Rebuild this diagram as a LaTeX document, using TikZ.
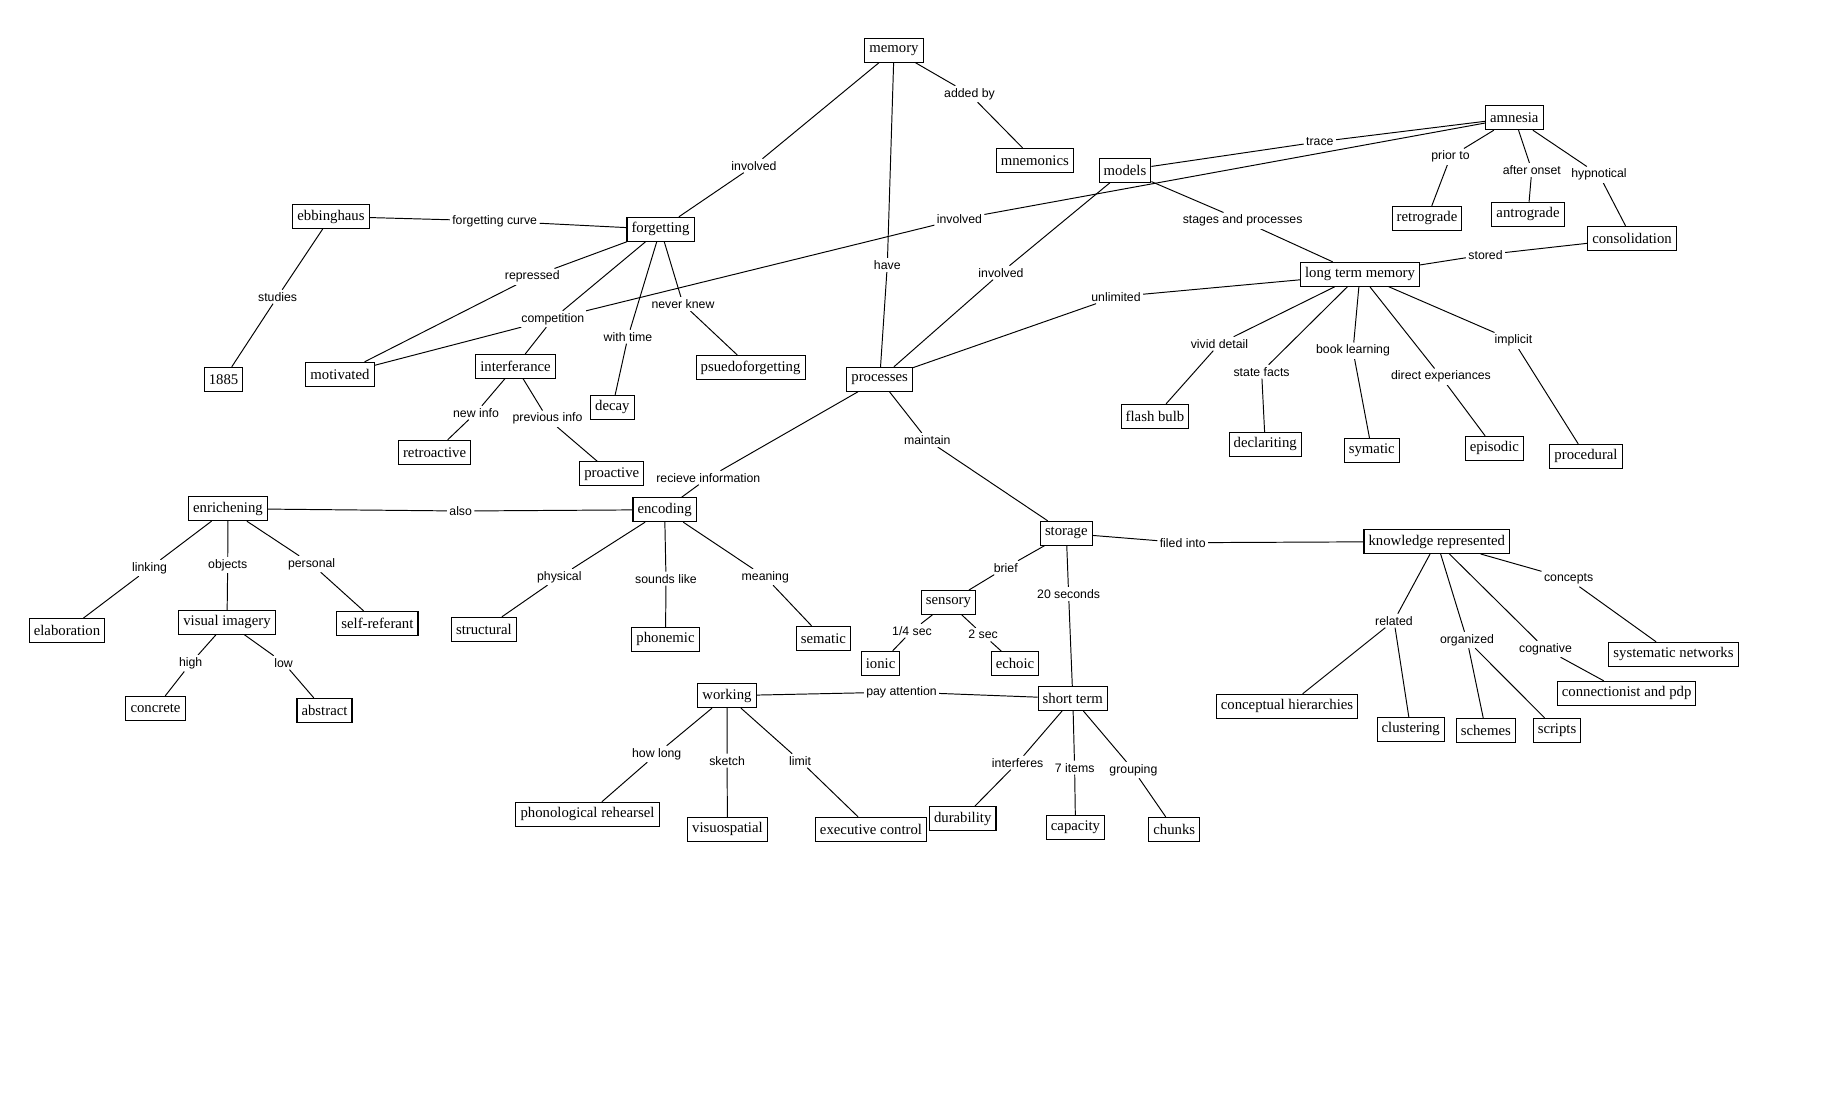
\documentclass[tikz,border=0pt]{standalone}
\usepackage{fontspec}
\setmainfont{Liberation Serif}
\newfontfamily\linkfont{Liberation Sans}
\usetikzlibrary{backgrounds}

\begin{document}
\begin{tikzpicture}[
    x=0.02cm, y=-0.02cm,
    concept/.style={draw, rectangle, fill=white, line width=0.6pt, inner xsep=2.6pt, inner ysep=1pt, minimum height=13.6pt, font=\fontsize{8.4}{10}\selectfont},
    link/.style={fill=white, inner sep=1.2pt, font=\linkfont\fontsize{7}{8.5}\selectfont},
    wire/.style={line width=0.55pt}
]
\useasboundingbox (0,0) rectangle (1831,1092);

% Concepts, top part
\node[concept] (mem) at (894,50.3) {memory};
\node[concept] (mnem) at (1034.8,160.3) {mnemonics};
\node[concept] (amn) at (1514.3,117.7) {amnesia};
\node[concept] (mod) at (1125,170.3) {models};
\node[concept] (ebb) at (331,216.5) {ebbinghaus};
\node[concept] (forg) at (660.5,229.3) {forgetting};
\node[concept] (retro) at (1427,218.3) {retrograde};
\node[concept] (antro) at (1528,214.2) {antrograde};
\node[concept] (cons) at (1632,238.3) {consolidation};
\node[concept] (ltm) at (1360,274.3) {long term memory};
\node[concept] (year) at (223.6,379.3) {1885};
\node[concept] (motiv) at (340,374.3) {motivated};
\node[concept] (interf) at (515.5,366.3) {interferance};
\node[concept] (psuedo) at (750.6,367.5) {psuedoforgetting};
\node[concept] (decay) at (612.4,407.3) {decay};
\node[concept] (proc) at (879.7,379.3) {processes};
\node[concept] (flash) at (1155,416.3) {flash bulb};
\node[concept] (decl) at (1265.2,444.3) {declariting};
\node[concept] (symat) at (1371.8,450.3) {symatic};
\node[concept] (episod) at (1494.4,448.3) {episodic};
\node[concept] (proced) at (1586,456.3) {procedural};
\node[concept] (retroact) at (434.6,452.3) {retroactive};
\node[concept] (proact) at (611.8,473.7) {proactive};

% Concepts, lower part
\node[concept] (enrich) at (228,508.7) {enrichening};
\node[concept] (enc) at (664.6,509.7) {encoding};
\node[concept] (stor) at (1066.3,533.3) {storage};
\node[concept] (know) at (1436.8,541.5) {knowledge represented};
\node[concept] (sens) at (948.4,602.5) {sensory};
\node[concept] (elab) at (67,630.5) {elaboration};
\node[concept] (visual) at (227,622.3) {visual imagery};
\node[concept] (selfref) at (377.4,623.3) {self-referant};
\node[concept] (struct) at (483.9,629.3) {structural};
\node[concept] (phon) at (665.5,639.3) {phonemic};
\node[concept] (sem) at (823.4,638.3) {sematic};
\node[concept] (ionic) at (880.6,663.3) {ionic};
\node[concept] (echo) at (1015,663.5) {echoic};
\node[concept] (sysnet) at (1673.5,654.3) {systematic networks};
\node[concept] (connect) at (1626.6,693.3) {connectionist and pdp};
\node[concept] (work) at (727,695.7) {working};
\node[concept] (short) at (1072.8,698.5) {short term};
\node[concept] (concr) at (155.5,708.3) {concrete};
\node[concept] (abstr) at (324.5,710.3) {abstract};
\node[concept] (hier) at (1287,706.3) {conceptual hierarchies};
\node[concept] (clust) at (1410.7,729.3) {clustering};
\node[concept] (schem) at (1485.8,730.3) {schemes};
\node[concept] (scrip) at (1557,730.3) {scripts};
\node[concept] (phreh) at (587.5,814.3) {phonological rehearsel};
\node[concept] (visuo) at (727.4,829.3) {visuospatial};
\node[concept] (exec) at (871,829.3) {executive control};
\node[concept] (durab) at (962.7,818.5) {durability};
\node[concept] (capac) at (1075.5,827.3) {capacity};
\node[concept] (chunk) at (1174.3,829.3) {chunks};

% Linking phrases
\node[link] (invA) at (754,165.7) {involved};
\node[link] (have) at (887.3,265) {have};
\node[link] (addby) at (969.5,94) {added by};
\node[link] (trace) at (1319.8,141.7) {trace};
\node[link] (invB) at (959.4,219) {involved};
\node[link] (fcurve) at (494.7,221) {forgetting curve};
\node[link] (studies) at (277.6,296.7) {studies};
\node[link] (repr) at (532.3,276.7) {repressed};
\node[link] (compet) at (552.8,319) {competition};
\node[link] (neverk) at (683,304) {never knew};
\node[link] (wtime) at (628,336.7) {with time};
\node[link] (newinf) at (476,412.7) {new info};
\node[link] (previnf) at (547.5,418.7) {previous info};
\node[link] (invC) at (1001,272.7) {involved};
\node[link] (stages) at (1242.6,220.7) {stages and processes};
\node[link] (prior) at (1450.5,156.7) {prior to};
\node[link] (onset) at (1531.8,170) {after onset};
\node[link] (hypno) at (1599,174.7) {hypnotical};
\node[link] (stored) at (1485.5,254.7) {stored};
\node[link] (unlim) at (1116,296.7) {unlimited};
\node[link] (vivid) at (1219.5,343.7) {vivid detail};
\node[link] (sfacts) at (1261.6,371.7) {state facts};
\node[link] (bookl) at (1353,350.7) {book learning};
\node[link] (direct) at (1441,376.7) {direct experiances};
\node[link] (implic) at (1513.4,340.7) {implicit};
\node[link] (recv) at (708.3,477.7) {recieve information};
\node[link] (maint) at (927.3,440) {maintain};
\node[link] (also) at (460.7,511) {also};
\node[link] (linking) at (149.6,568) {linking};
\node[link] (objects) at (227.7,565) {objects};
\node[link] (personal) at (311.6,564) {personal};
\node[link] (high) at (190.7,663.3) {high};
\node[link] (low) at (283.5,662.7) {low};
\node[link] (physic) at (559.3,577) {physical};
\node[link] (sounds) at (666,578.7) {sounds like};
\node[link] (meaning) at (765.3,577) {meaning};
\node[link] (filed) at (1182.7,542.7) {filed into};
\node[link] (brief) at (1005.7,567.7) {brief};
\node[link] (twenty) at (1068.6,594) {20 seconds};
\node[link] (quart) at (912,630.7) {1/4 sec};
\node[link] (twosec) at (983.1,634.7) {2 sec};
\node[link] (payatt) at (901.5,692) {pay attention};
\node[link] (howlong) at (656.7,754) {how long};
\node[link] (sketch) at (727.1,760.7) {sketch};
\node[link] (limit) at (800,760.7) {limit};
\node[link] (interfs) at (1017.6,762.7) {interferes};
\node[link] (seven) at (1074.6,767.7) {7 items};
\node[link] (grouping) at (1133.4,770) {grouping};
\node[link] (related) at (1394,620.7) {related};
\node[link] (organiz) at (1467,640) {organized};
\node[link] (cognat) at (1545.5,649) {cognative};
\node[link] (concepts) at (1568.6,579) {concepts};

% Connections, behind the boxes and phrases
\begin{scope}[on background layer]
\draw[wire] (mem) -- (invA) (invA) -- (forg);
\draw[wire] (mem) -- (have) (have) -- (proc);
\draw[wire] (mem) -- (addby) (addby) -- (mnem);
\draw[wire] (amn) -- (trace) (trace) -- (mod);
\draw[wire] (amn) -- (invB) (invB) -- (compet);
\draw[wire] (ebb) -- (fcurve) (fcurve) -- (forg);
\draw[wire] (ebb) -- (studies) (studies) -- (year);
\draw[wire] (forg) -- (repr) (repr) -- (motiv);
\draw[wire] (forg) -- (compet) (compet) -- (motiv) (compet) -- (interf);
\draw[wire] (forg) -- (neverk) (neverk) -- (psuedo);
\draw[wire] (forg) -- (wtime) (wtime) -- (decay);
\draw[wire] (interf) -- (newinf) (newinf) -- (retroact);
\draw[wire] (interf) -- (previnf) (previnf) -- (proact);
\draw[wire] (mod) -- (invC) (invC) -- (proc);
\draw[wire] (mod) -- (stages) (stages) -- (ltm);
\draw[wire] (amn) -- (prior) (prior) -- (retro);
\draw[wire] (amn) -- (onset) (onset) -- (antro);
\draw[wire] (amn) -- (hypno) (hypno) -- (cons);
\draw[wire] (cons) -- (stored) (stored) -- (ltm);
\draw[wire] (ltm) -- (unlim) (unlim) -- (proc);
\draw[wire] (ltm) -- (vivid) (vivid) -- (flash);
\draw[wire] (ltm) -- (sfacts) (sfacts) -- (decl);
\draw[wire] (ltm) -- (bookl) (bookl) -- (symat);
\draw[wire] (ltm) -- (direct) (direct) -- (episod);
\draw[wire] (ltm) -- (implic) (implic) -- (proced);
\draw[wire] (proc) -- (recv) (recv) -- (enc);
\draw[wire] (proc) -- (maint) (maint) -- (stor);
\draw[wire] (enrich) -- (also) (also) -- (enc);
\draw[wire] (enrich) -- (linking) (linking) -- (elab);
\draw[wire] (enrich) -- (objects) (objects) -- (visual);
\draw[wire] (enrich) -- (personal) (personal) -- (selfref);
\draw[wire] (visual) -- (high) (high) -- (concr);
\draw[wire] (visual) -- (low) (low) -- (abstr);
\draw[wire] (enc) -- (physic) (physic) -- (struct);
\draw[wire] (enc) -- (sounds) (sounds) -- (phon);
\draw[wire] (enc) -- (meaning) (meaning) -- (sem);
\draw[wire] (stor) -- (filed) (filed) -- (know);
\draw[wire] (stor) -- (brief) (brief) -- (sens);
\draw[wire] (stor) -- (twenty) (twenty) -- (short);
\draw[wire] (sens) -- (quart) (quart) -- (ionic);
\draw[wire] (sens) -- (twosec) (twosec) -- (echo);
\draw[wire] (work) -- (payatt) (payatt) -- (short);
\draw[wire] (work) -- (howlong) (howlong) -- (phreh);
\draw[wire] (work) -- (sketch) (sketch) -- (visuo);
\draw[wire] (work) -- (limit) (limit) -- (exec);
\draw[wire] (short) -- (interfs) (interfs) -- (durab);
\draw[wire] (short) -- (seven) (seven) -- (capac);
\draw[wire] (short) -- (grouping) (grouping) -- (chunk);
\draw[wire] (know) -- (related) (related) -- (hier) (related) -- (clust);
\draw[wire] (know) -- (organiz) (organiz) -- (schem) (organiz) -- (scrip);
\draw[wire] (know) -- (cognat) (cognat) -- (connect);
\draw[wire] (know) -- (concepts) (concepts) -- (sysnet);
\end{scope}
\end{tikzpicture}
\end{document}
